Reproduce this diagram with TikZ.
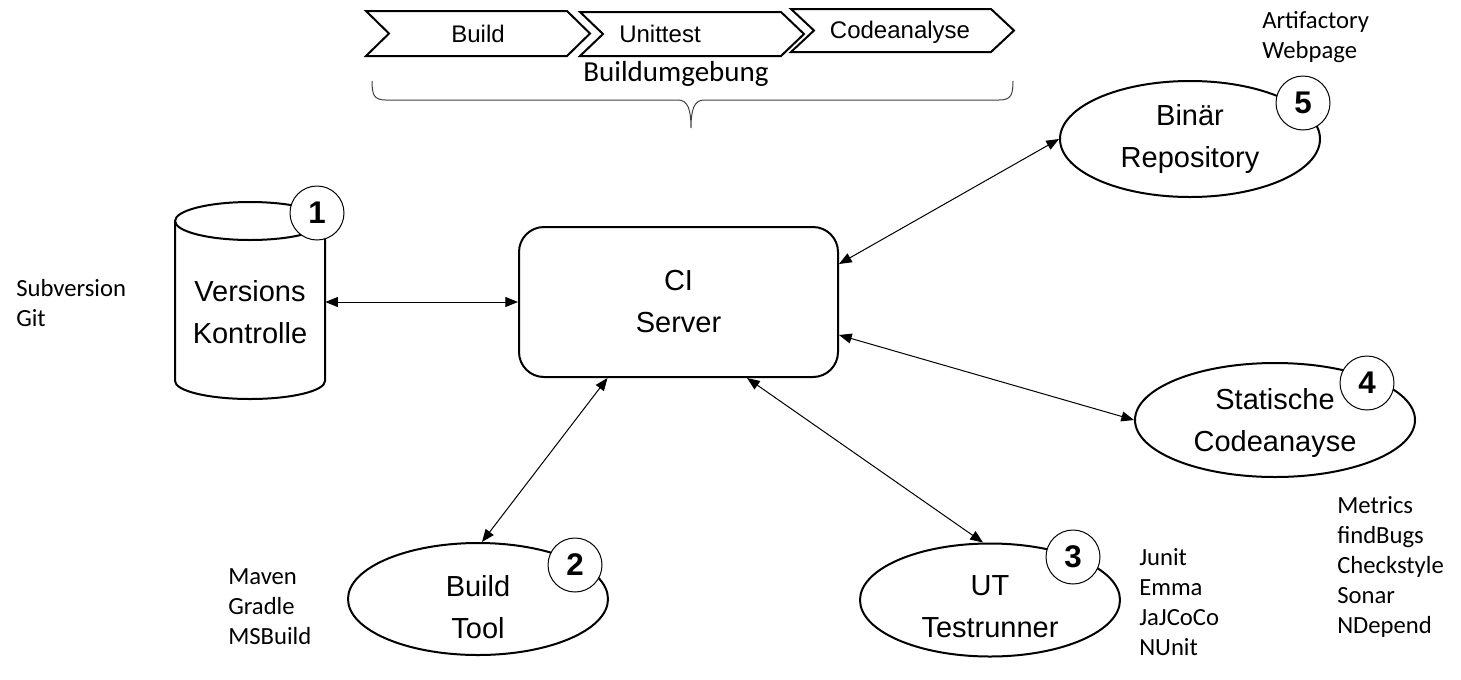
\documentclass[tikz,border=0pt]{standalone}
\usepackage{fontspec}
\setmainfont{Liberation Sans}
\newfontfamily\calfont{Carlito}
\usetikzlibrary{arrows.meta,shapes.geometric}
\begin{document}
\begin{tikzpicture}[x=0.75pt,y=-0.75pt,
  shape line/.style={line width=1.5pt},
  bigtext/.style={font=\fontsize{21.75pt}{31.5pt}\selectfont, align=center},
  ell/.style={ellipse, draw, shape line, fill=white, inner sep=0pt},
  num/.style={circle, draw, line width=0.75pt, fill=white, minimum size=40.5pt, inner sep=0pt, font=\fontsize{23.5pt}{23.5pt}\selectfont\bfseries},
  chev/.style={draw, line width=1.5pt, fill=white, line join=miter},
  chevtext/.style={font=\fontsize{18pt}{18pt}\selectfont, inner sep=0pt},
  side/.style={font=\calfont\fontsize{18.5pt}{22.5pt}\selectfont, align=left, anchor=west, inner sep=0pt},
  conn/.style={line width=0.75pt, {Triangle[length=9.5pt,width=7.5pt]}-{Triangle[length=9.5pt,width=7.5pt]}}
]
\useasboundingbox (0,0) rectangle (1461,679);

% chevrons
\draw[chev] (366,11) -- (567,11) -- (590,33.5) -- (567,56) -- (366,56) -- (389,33.5) -- cycle;
\draw[chev] (580,12) -- (781,12) -- (804,34) -- (781,56) -- (580,56) -- (603,34) -- cycle;
\draw[chev] (791,9) -- (991,9) -- (1014,30.5) -- (991,52) -- (791,52) -- (814,30.5) -- cycle;
\node[chevtext] (c1) at (478,34) {Build};
\node[chevtext] (c2) at (660,34) {Unittest};
\node[chevtext] (c3) at (900,32) {Codeanalyse};

% brace
\node[font=\calfont\fontsize{21.75pt}{21.75pt}\selectfont, inner sep=0pt] (env) at (676,74) {Buildumgebung};
\draw[line width=0.75pt, black!75] (372,81) .. controls (372,95) and (374,100) .. (386,100) -- (678,100)
  .. controls (688,100) and (691,110) .. (691,128) .. controls (691,110) and (694,100) .. (704,100)
  -- (999,100) .. controls (1011,100) and (1013,95) .. (1013,81);

% cylinder
\node[minimum width=112.5pt, minimum height=147.75pt, inner sep=0pt] (vk) at (250,302) {};
\draw[shape line, fill=white] (175,221) -- (175,381) arc (180:360:56.25pt and 13.5pt) -- (325,221);
\draw[shape line] (250,221) ellipse [x radius=56.25pt, y radius=14.25pt];
\node[bigtext, inner sep=0pt] (vkt) at (250,312) {Versions\\Kontrolle};

% CI server
\node[draw, shape line, rounded corners=18.75pt, minimum width=239.25pt, minimum height=112.5pt, inner sep=0pt, bigtext] (ci) at (678.5,302) {CI\\Server};

% ellipses
\node[ell, minimum width=195pt, minimum height=87pt] (bin) at (1190,139) {};
\node[ell, minimum width=210pt, minimum height=85.5pt] (stat) at (1275,420) {};
\node[ell, minimum width=195pt, minimum height=84pt] (bt) at (478,599) {};
\node[ell, minimum width=195pt, minimum height=84.75pt] (ut) at (990,600) {};
\node[bigtext, inner sep=0pt] (bint) at (1190,139) {Binär\\Repository};
\node[bigtext, inner sep=0pt] (statt) at (1275,423) {Statische\\Codeanayse};
\node[bigtext, inner sep=0pt] (btt) at (478,607) {Build\\Tool};
\node[bigtext, inner sep=0pt] (utt) at (990,607) {UT\\Testrunner};

% numbers
\node[num] (n1) at (317,213) {1};
\node[num] (n2) at (575,565) {2};
\node[num] (n3) at (1073,557) {3};
\node[num] (n4) at (1367,383) {4};
\node[num] (n5) at (1303,103) {5};

% side texts
\node[side] (s1) at (16,303) {Subversion\\Git};
\node[side] (s2) at (228,606.5) {Maven\\Gradle\\MSBuild};
\node[side] (s3) at (1139,602.5) {Junit\\Emma\\JaJCoCo\\NUnit};
\node[side] (s4) at (1337,567) {Metrics\\findBugs\\Checkstyle\\Sonar\\NDepend};
\node[side] (s5) at (1262,37) {Artifactory\\Webpage};

% connectors
\draw[conn] (vk.east) -- (ci.west);
\draw[conn] ([yshift=28.5pt]ci.east) -- (bin.west);
\draw[conn] ([yshift=-24.75pt]ci.east) -- (stat.west);
\draw[conn] ([xshift=-53.25pt]ci.south) -- ([xshift=3pt]bt.north);
\draw[conn] ([xshift=51.4pt]ci.south) -- ([xshift=-5.25pt]ut.north);
\end{tikzpicture}
\end{document}
